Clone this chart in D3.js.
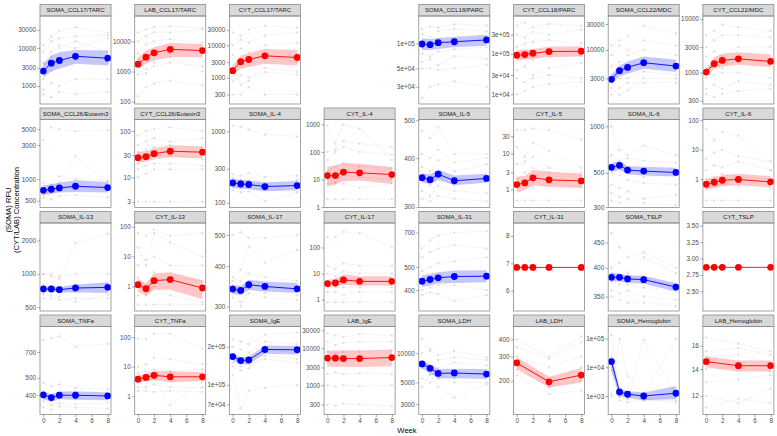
<!DOCTYPE html>
<html>
<head>
<meta charset="utf-8">
<script src="https://cdn.jsdelivr.net/npm/d3@7"></script>
<style>
body{margin:0;background:#fff}
svg{display:block;font-family:"Liberation Sans",Arial,sans-serif}
</style>
</head>
<body>
<div id="chart"></div>
<script>
// facet order, row by row (slot 4 of the first row is empty)
const names=['SOMA_CCL17/TARC','LAB_CCL17/TARC','CYT_CCL17/TARC',null,'SOMA_CCL18/PARC','CYT_CCL18/PARC','SOMA_CCL22/MDC','CYT_CCL22/MDC',
	'SOMA_CCL26/Eotaxin3','CYT_CCL26/Eotaxin3','SOMA_IL-4','CYT_IL-4','SOMA_IL-5','CYT_IL-5','SOMA_IL-6','CYT_IL-6',
	'SOMA_IL-13','CYT_IL-13','SOMA_IL-17','CYT_IL-17','SOMA_IL-31','CYT_IL-31','SOMA_TSLP','CYT_TSLP',
	'SOMA_TNFa','CYT_TNFa','SOMA_IgE','LAB_IgE','SOMA_LDH','LAB_LDH','SOMA_Hemoglobin','LAB_Hemoglobin']

const weeks=[0,1,2,4,8]
const weeksLab=[0,4,8]
const xTicks=[0,2,4,6,8]

const yTicks=[
	['1000','3000','10000','30000'],['100','1000','10000'],['300','1000','3000','10000','30000'],null,
	['3e+04','5e+04','1e+05'],['1e+04','3e+04','1e+05','3e+05'],['3000','10000','30000'],['300','1000','3000','10000'],
	['500','1000','3000','5000'],['3','10','30','100'],['100','300','1000'],['1','10','100','1000'],
	['300','400','500'],['1','3','10','30'],['300','500','1000'],['1','10','100'],
	['500','1000','2000'],['1','10','100'],['300','400','500'],['1','10','100'],
	['400','500','700'],['6','7','8'],['350','400','450'],['2.50','2.75','3.00','3.25','3.50'],
	['400','500','700'],['1','10','100'],['7e+04','1e+05','2e+05'],['300','1000','3000','10000','30000'],
	['3000','5000','10000'],['200','300','400'],['1e+03','1e+04','1e+05'],['12','14','16']
]

const yDomains=[
	[333,69500],[84,69600],[152,80500],null,[18600,214000],[5750,863000],[1010,42100],[261,11340],
	[402,6820],[2.26,177],[85.8,1462],[0.97,1500],[299,502],[0.318,88.3],[298.5,1106],[0.11,105.6],
	[462,2877],[0.15,133],[290.6,544.5],[0.368,867],[325.8,769],[5.26,8.47],[327.2,492.7],[2.2,3.54],
	[310,977],[0.239,230],[58300,289500],[161.7,38300],[2345,18750],[113.9,495.5],[225.5,263600],[10.77,17.89]
]
// panels where all values are identical use a plain linear axis
const linearPanels=[21,23]

const means=[
	[2460,3970,4670,6030,5360],[1760,2980,4170,5470,4960],[1640,3090,3630,4710,4180],null,
	[98400,96500,102000,104800,110000],[92400,96100,103400,113800,115800],[2880,4150,4770,5810,5040],[1026,1466,1690,1810,1616],
	[698,723,754,796,764],[26.7,28.1,32.6,36.8,35],[189.6,183,180,168.5,174],[13.9,13.9,18.6,17.5,15.2],
	[356.5,352.3,363.9,350,354.8],[1.38,1.53,2.12,1.86,1.74],[542.6,559,521,513,503],[0.674,0.789,0.924,0.977,0.808],
	[730,730,720,745,755],[1.14,0.836,1.56,1.69,0.883],[339.8,336.5,350.4,346.2,340.4],[4.1,4.36,5.7,5.03,5.03],
	[435.5,443,450.4,456.2,457.5],[6.85,6.85,6.85,6.85,6.85],[382.7,382.7,379.9,378.6,365.8],[2.865,2.865,2.865,2.865,2.865],
	[400,386.5,398.5,398.5,394.8],[3.78,4.33,5.07,4.54,4.54],[167500,155600,157600,190500,189500],[5353,5353,5225,5225,5560],
	[7740,6980,6190,6250,6100],[269.7,196.7,220.2],[15760,1378,1144,996,1240],[14.61,14.27,14.27]
]
const ciLow=[
	[1660,2420,2840,3840,3460],[1245,1815,2330,2990,2990],[1176,1880,2110,2680,2380],null,
	[83400,83400,85800,89600,93900],[68500,71300,75500,82600,85900],[2410,3270,3660,4520,3920],[855,1186,1306,1404,1268],
	[608,628,649,661,649],[21.2,21.8,25,27.2,25.9],[161,158,154,144.5,149],[5.5,6.9,8.7,9.2,6.9],
	[346.8,342.7,351.5,341.4,346],[0.82,0.955,1.32,1.18,1.11],[508,521,489,480,473],[0.42,0.503,0.575,0.622,0.544],
	[693,693,679,679,671],[0.676,0.484,0.773,0.77,0.374],[328,326,338,333.9,330.5],[3.05,3.2,3.75,3.43,3.43],
	[412,417.4,425.6,428.7,431.3],[6.85,6.85,6.85,6.85,6.85],[375.5,375.5,372.8,371.5,358.2],[2.865,2.865,2.865,2.865,2.865],
	[378,366.4,378,376.3,372.9],[2.92,3.16,3.5,2.92,3.31],[155600,144500,146400,176100,173800],[3155,3155,3155,3100,3240],
	[7030,6190,5500,5520,5410],[243.7,178.9,194.5],[7590,996,875,703,762],[14.14,13.81,13.81]
]
const ciHigh=[
	[3840,6300,7690,8870,8510],[2850,4950,6350,8870,8220],[2380,4810,5660,7700,7190],null,
	[115000,112800,115900,120200,127000],[125000,127400,132400,150700,153500],[3410,5190,6120,7550,6580],[1186,1940,2240,2395,2175],
	[822,849,898,968,916],[36,37.3,42.8,48.8,46.4],[214,209,205,192,200],[29.8,32.4,39.6,37.4,28.2],
	[365.9,363.8,373.2,360.8,364.5],[2.26,2.41,3.48,3.12,2.81],[577,597,553,547,540],[1,1.2,1.37,1.52,1.27],
	[771,771,760,798,838],[1.78,1.23,2.69,2.98,1.6],[350,347.8,363.4,358.9,354.7],[5.85,6.4,9.15,7.86,7.86],
	[460.7,468.5,476,484,485.4],[6.85,6.85,6.85,6.85,6.85],[390.7,389.4,386.3,385.7,372.8],[2.865,2.865,2.865,2.865,2.865],
	[418.4,403.6,418,418,412.9],[4.91,5.94,7.29,6.95,6.42],[178300,165600,167500,205100,202900],[8630,8630,8630,8630,9020],
	[8380,7620,6870,6900,6870],[297,214,246.6],[29400,1718,1496,1312,2244],[15.04,14.7,14.7]
]

// individual subjects (grey dashed lines)
const subjects=[
	[[12000,20000,28000,35000,25000],[8000,15000,18000,20000,22000],[3000,6000,10000,15000,8000],[1500,2500,4000,5000,4000],[800,1200,1000,1500,1500],[600,500,700,600,700],[4000,8000,12000,10000,18000]],
	[[20000,25000,30000,32000,28000],[10000,15000,20000,20000,25000],[4000,8000,10000,12000,9000],[1500,3000,5000,4000,6000],[800,900,1500,2000,1500],[150,300,400,500,350],[2500,1200,2000,3000,1000]],
	[[25000,20000,30000,40000,35000],[10000,15000,12000,20000,25000],[5000,8000,6000,10000,12000],[2000,3000,3500,5000,3000],[800,1200,1000,1500,1200],[300,300,500,300,300],[1500,600,800,2000,1500]],
	null,
	[[150000,160000,155000,170000,165000],[130000,120000,140000,150000,140000],[90000,100000,110000,95000,120000],[75000,70000,80000,85000,90000],[50000,50000,48000,50000,55000],[22000,30000,32000,35000,30000],[60000,65000,55000,70000,65000]],
	[[500000,600000,450000,550000,500000],[300000,250000,350000,300000,400000],[150000,180000,200000,220000,180000],[80000,90000,70000,100000,90000],[40000,50000,30000,45000,60000],[10000,12000,15000,18000,20000],[25000,20000,25000,30000,25000]],
	[[12000,15000,18000,28000,20000],[8000,12000,10000,15000,12000],[5000,6000,8000,10000,8000],[3500,4000,5000,6000,5000],[2500,3000,3000,4000,3500],[1500,2000,2500,2500,2500],[2000,1500,1800,3000,3000]],
	[[5000,6000,8000,7000,6000],[3000,4000,5000,5000,4500],[2000,2500,2000,3000,3000],[1200,1500,1200,1800,1500],[800,900,1000,1000,800],[500,600,500,700,600],[400,350,400,450,500]],
	[[3500,5300,5000,4700,4800],[700,800,900,2100,900],[900,850,1100,1000,950],[600,650,700,800,700],[550,520,580,600,560],[750,700,800,750,800]],
	[[3,3,3,3,3],[80,100,110,120,100],[50,60,70,60,70],[35,40,45,50,45],[20,25,30,30,25],[15,18,20,20,18],[10,12,15,15,15]],
	[[1200,1150,1050,900,850],[250,240,260,230,240],[200,210,190,180,200],[170,160,165,150,160],[150,140,145,105,140],[220,200,210,190,210]],
	[[900,200,1000,700,50],[100,120,250,200,150],[50,100,150,100,80],[20,30,40,30,25],[10,8,15,12,10],[7,7,7,5,7],[1.95,1.95,1.95,1.95,1.95]],
	[[470,450,480,410,410],[410,400,420,390,400],[380,370,395,370,385],[350,340,360,340,350],[330,320,340,330,325],[315,310,320,315,310]],
	[[0.5,0.5,0.5,0.5,0.5],[45,45,50,45,25],[15,8,20,12,4],[5,6,8,4,3],[2,3,4,3,2.5],[1.2,1.5,1.2,1.5,1.2]],
	[[1000,700,650,750,650],[650,600,620,600,580],[500,480,520,470,490],[420,400,450,430,420],[370,350,380,340,360],[330,320,340,320,310]],
	[[0.19,0.19,0.19,0.19,0.19],[50,20,40,30,2],[5,8,10,6,4],[2,3,2.5,4,2],[1,1.2,1.5,1.2,1],[0.5,0.6,0.7,0.6,0.5]],
	[[1000,950,900,1900,2300],[1000,1000,950,1000,1000],[800,780,760,800,820],[700,700,690,720,750],[650,640,620,560,650],[600,600,580,600,600]],
	[[0.25,0.25,0.25,0.25,0.25],[60,50,80,50,60],[20,5,60,30,10],[5,8,10,5,5],[2,1,3,2,1.5],[0.5,0.5,1,0.5,0.3]],
	[[500,510,490,490,500],[360,390,460,410,450],[370,360,380,370,360],[340,330,350,345,335],[320,310,330,320,315],[350,300,340,330,325]],
	[[250,250,400,350,100],[20,15,25,20,20],[10,8,12,10,10],[5,5,6,5,5],[3,3,3,3,3],[0.8,0.8,0.8,0.8,0.8],[2,2,1.5,2,2]],
	[[600,650,680,700,710],[550,580,600,620,600],[480,500,520,530,550],[430,440,460,450,470],[400,410,420,420,400],[380,390,385,360,380]],
	[],
	[[470,440,420,430,400],[400,410,390,420,390],[390,380,385,380,370],[375,370,370,365,360],[360,355,360,350,345],[350,345,340,340,335]],
	[],
	[[820,840,860,750,780],[470,450,460,440,430],[420,400,410,420,410],[390,370,390,380,385],[370,350,360,355,360],[340,330,345,340,335]],
	[[90,85,130,130,40],[10,12,20,18,12],[6,7,8,7,8],[3,3.5,4,0.5,3],[2,2,2.5,2,2],[1.5,1.5,1.4,1.5,1.4]],
	[[230000,220000,210000,250000,260000],[200000,190000,180000,220000,210000],[160000,150000,150000,190000,180000],[140000,130000,135000,170000,160000],[120000,65000,90000,95000,100000],[150000,140000,145000,160000,150000]],
	[[25000,22000,20000,24000,22000],[15000,12000,14000,15000,15000],[8000,7000,8000,8000,9000],[2000,2200,2000,2100,2000],[1000,900,1000,950,1000],[300,280,320,300,280]],
	[[14000,11000,9500,10500,9000],[10000,10500,8500,9000,8500],[8000,7500,7000,8000,7500],[7000,6000,6000,5500,6500],[5500,5000,5500,5000,5000],[4500,6000,4500,3500,4800]],
	[[400,300,420],[350,290,380],[300,250,300],[270,200,250],[240,180,200],[220,160,170]],
	[[130000,1100,900,700,1000],[1200,100000,5000,800,900],[1000,1000,800,90000,1200],[20000,1500,1300,1000,100000],[10000,900,800,700,700],[8000,700,600,800,600]],
	[[16.8,16.2,15.5],[15.5,15.8,15.2],[15,15.2,14.5],[14,14.2,13.8],[13,13.2,13.5],[12,11.5,12.5],[11.2,11.8,11.5]]
]

const W=777,H=436
const left0=40,colStep=94.7,panelW=71
const top0=4.5,rowStep=103.5,stripH=11.5,plotH=88

const svg=d3.select('#chart').append('svg')
	.attr('width',W)
	.attr('height',H)

const xScale=d3.scaleLinear()
	.domain([-0.4,8.4])
	.range([0,panelW])

names.forEach((name,i)=>{
	if(!name) return
	const row=Math.floor(i/8),col=i%8
	const g=svg.append('g')
		.attr('transform',`translate(${left0+col*colStep},${top0+row*rowStep})`)
	const color=name.startsWith('SOMA')?'#0000ff':'#ff0000'
	const wk=means[i].length===3?weeksLab:weeks

	const yScale=(linearPanels.includes(i)?d3.scaleLinear():d3.scaleLog())
		.domain(yDomains[i])
		.range([stripH+plotH,stripH])

	// strip
	g.append('rect')
		.attr('width',panelW)
		.attr('height',stripH)
		.attr('fill','#d9d9d9')
		.attr('stroke','#8c8c8c')
		.attr('stroke-width',0.8)
	g.append('text')
		.attr('x',panelW/2)
		.attr('y',stripH/2)
		.attr('dy','0.35em')
		.attr('text-anchor','middle')
		.attr('font-size',6.1)
		.attr('fill','#1a1a1a')
		.text(name)

	g.append('clipPath').attr('id','clip'+i)
		.append('rect').attr('y',stripH).attr('width',panelW).attr('height',plotH)
	const body=g.append('g').attr('clip-path',`url(#clip${i})`)

	const line=d3.line()
		.x((d,j)=>xScale(wk[j]))
		.y(d=>yScale(d))

	// individual subjects
	subjects[i].forEach(s=>{
		body.append('path')
			.attr('d',line(s))
			.attr('fill','none')
			.attr('stroke','#bdbdbd')
			.attr('stroke-opacity',0.45)
			.attr('stroke-width',0.6)
			.attr('stroke-dasharray','2,1.5')
		body.selectAll(null)
			.data(s)
			.enter()
			.append('circle')
			.attr('cx',(d,j)=>xScale(wk[j]))
			.attr('cy',d=>yScale(d))
			.attr('r',1.2)
			.attr('fill','#c8c8c8')
			.attr('fill-opacity',0.5)
	})

	// confidence band
	const area=d3.area()
		.x((d,j)=>xScale(wk[j]))
		.y0((d,j)=>yScale(ciLow[i][j]))
		.y1((d,j)=>yScale(ciHigh[i][j]))
	body.append('path')
		.attr('d',area(means[i]))
		.attr('fill',color)
		.attr('fill-opacity',0.22)

	body.append('path')
		.attr('d',line(means[i]))
		.attr('fill','none')
		.attr('stroke',color)
		.attr('stroke-width',0.9)

	body.selectAll('.meanPt')
		.data(means[i])
		.enter()
		.append('circle')
		.attr('class','meanPt')
		.attr('cx',(d,j)=>xScale(wk[j]))
		.attr('cy',d=>yScale(d))
		.attr('r',3.4)
		.attr('fill',color)

	// border
	g.append('rect')
		.attr('y',stripH)
		.attr('width',panelW)
		.attr('height',plotH)
		.attr('fill','none')
		.attr('stroke','#8c8c8c')
		.attr('stroke-width',0.8)

	// y axis
	const ticks=yTicks[i]
	const yAxis=d3.axisLeft(yScale)
		.tickValues(ticks.map(Number))
		.tickFormat((d,k)=>ticks[k])
		.tickSize(2.5)
		.tickPadding(1.5)
	const ya=g.append('g').call(yAxis)
	ya.select('.domain').remove()
	ya.selectAll('line').attr('stroke','#4d4d4d').attr('stroke-width',0.5)
	ya.selectAll('text').attr('font-size',6.4).attr('fill','#4d4d4d').attr('font-family','"Liberation Sans",Arial,sans-serif')

	// x axis only on bottom row
	if(row===3){
		const xAxis=d3.axisBottom(xScale)
			.tickValues(xTicks)
			.tickSize(2.5)
			.tickPadding(1.5)
		const xa=g.append('g')
			.attr('transform',`translate(0,${stripH+plotH})`)
			.call(xAxis)
		xa.select('.domain').remove()
		xa.selectAll('line').attr('stroke','#4d4d4d').attr('stroke-width',0.5)
		xa.selectAll('text').attr('font-size',6.4).attr('fill','#4d4d4d').attr('font-family','"Liberation Sans",Arial,sans-serif')
	}
})

// axis titles
const yTitle=svg.append('text')
	.attr('transform','translate(0,210) rotate(-90)')
	.attr('text-anchor','middle')
	.attr('font-size',7.6)
	.attr('fill','#000')
yTitle.append('tspan').attr('x',0).attr('y',11).text('(SOMA) RFU')
yTitle.append('tspan').attr('x',0).attr('y',19).text('(CYT/LAB) Concentration')

svg.append('text')
	.attr('x',407)
	.attr('y',433)
	.attr('text-anchor','middle')
	.attr('font-size',7.6)
	.attr('fill','#000')
	.text('Week')
</script>
</body>
</html>
